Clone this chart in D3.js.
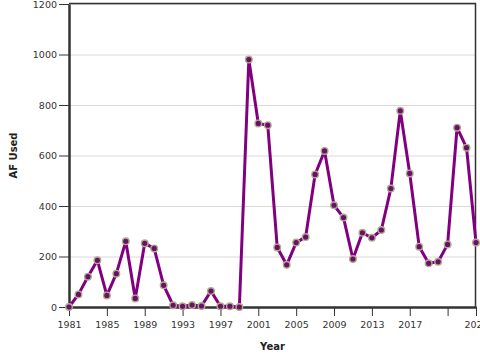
<!DOCTYPE html>
<meta charset="utf-8" />
<style>
  body { margin: 0; background: #fff; }
  text { font-family: "DejaVu Sans", sans-serif; }
  .grid line { stroke: #d9d9d9; stroke-width: 1; }
  .axis path, .axis line { stroke: #333; }
  .axis text { fill: #333; font-size: 9.5px; }
</style>
<svg width="480" height="360"></svg>
<script src="https://d3js.org/d3.v7.min.js"></script>
<script>
  const years = d3.range(1981, 2025);
  const afUsed = [
    0, 50, 120, 185, 46, 132, 260, 34, 252, 232,
    86, 7, 3, 8, 4, 63, 3, 3, 0, 980,
    727, 720, 236, 167, 255, 277, 525, 618, 403, 354,
    190, 294, 274, 305, 469, 777, 529, 239, 173, 179,
    248, 710, 631, 255
  ];
  const yTicks = [0, 200, 400, 600, 800, 1000, 1200];
  const xTicks = [1981, 1985, 1989, 1993, 1997, 2001, 2005, 2009, 2013, 2017, 2021, 2024];
  const hiddenXLabels = [2021];

  const svg = d3.select('svg');
  const margin = { top: 4, right: 4, bottom: 53, left: 69 };
  const width = +svg.attr('width') - margin.left - margin.right;
  const height = +svg.attr('height') - margin.top - margin.bottom;

  const data = years.map(function (y, i) { return { year: y, value: afUsed[i] }; });

  const x = d3.scaleLinear().domain([1981, 2024]).range([0, width]);
  const y = d3.scaleLinear().domain([0, 1200]).range([height, 0]);

  const g = svg.append('g').attr('transform', 'translate(' + margin.left + ',' + margin.top + ')');

  // gridlines
  g.append('g')
    .attr('class', 'grid')
    .selectAll('line')
    .data(yTicks.filter(function (d) { return d > 0; }))
    .join('line')
    .attr('x1', 0)
    .attr('x2', width)
    .attr('y1', function (d) { return y(d) + 0.5; })
    .attr('y2', function (d) { return y(d) + 0.5; });

  // frame top/right
  g.append('path')
    .attr('d', 'M0,' + (-0.5) + 'H' + (width - 0.5) + 'V' + height)
    .attr('fill', 'none')
    .attr('stroke', '#333')
    .attr('stroke-width', 1.5);

  g.append('g')
    .attr('class', 'axis')
    .call(d3.axisLeft(y).tickValues(yTicks).tickFormat(d3.format('d'))
      .tickSize(10).tickPadding(2).tickSizeOuter(0))
    .call(function (a) { a.select('.domain').attr('stroke-width', 2.5); });

  g.append('g')
    .attr('class', 'axis')
    .attr('transform', 'translate(0,' + height + ')')
    .call(d3.axisBottom(x).tickValues(xTicks).tickSize(9).tickPadding(5).tickSizeOuter(0)
      .tickFormat(function (d) { return hiddenXLabels.indexOf(d) >= 0 ? '' : d; }))
    .call(function (a) { a.select('.domain').attr('stroke-width', 2.5); });

  const line = d3.line()
    .x(function (d) { return x(d.year); })
    .y(function (d) { return y(d.value); });

  g.append('path')
    .datum(data)
    .attr('fill', 'none')
    .attr('stroke', '#800080')
    .attr('stroke-width', 3)
    .attr('stroke-linejoin', 'round')
    .attr('d', line);

  g.selectAll('circle')
    .data(data)
    .join('circle')
    .attr('cx', function (d) { return x(d.year); })
    .attr('cy', function (d) { return y(d.value); })
    .attr('r', 3.3)
    .attr('fill', '#661266')
    .attr('stroke', '#b3a98e')
    .attr('stroke-width', 1.4);

  svg.append('text')
    .attr('x', margin.left + width / 2)
    .attr('y', 349.5)
    .attr('text-anchor', 'middle')
    .attr('font-size', 10)
    .attr('font-weight', 'bold')
    .attr('fill', '#222')
    .text('Year');

  svg.append('text')
    .attr('transform', 'translate(17,' + (margin.top + height / 2) + ') rotate(-90)')
    .attr('text-anchor', 'middle')
    .attr('font-size', 10)
    .attr('font-weight', 'bold')
    .attr('fill', '#222')
    .text('AF Used');
</script>
